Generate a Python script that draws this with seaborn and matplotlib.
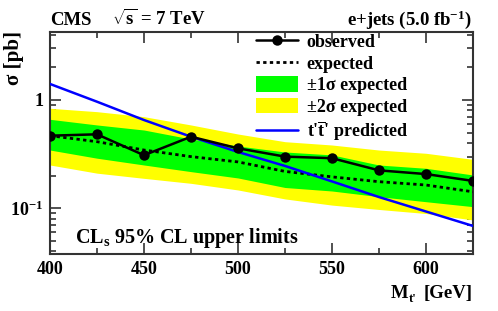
import numpy as np
import pandas as pd
import matplotlib
matplotlib.use("Agg")
import matplotlib.pyplot as plt
import seaborn as sns
from matplotlib.lines import Line2D
from matplotlib.patches import Patch
from matplotlib.ticker import FixedLocator, NullFormatter

# ---- data ----
mass = [400, 425, 450, 475, 500, 525, 550, 575, 600, 625]
observed = [0.468, 0.482, 0.309, 0.458, 0.358, 0.300, 0.290, 0.224, 0.207, 0.179]
expected = [0.468, 0.412, 0.345, 0.300, 0.268, 0.219, 0.195, 0.176, 0.164, 0.142]
band1_lo = [0.345, 0.290, 0.251, 0.218, 0.1905, 0.1556, 0.1444, 0.128, 0.115, 0.1035]
band1_hi = [0.663, 0.588, 0.528, 0.436, 0.376, 0.331, 0.311, 0.251, 0.234, 0.203]
band2_lo = [0.251, 0.211, 0.189, 0.170, 0.1476, 0.122, 0.107, 0.0975, 0.0895, 0.078]
band2_hi = [0.838, 0.780, 0.701, 0.588, 0.485, 0.412, 0.384, 0.345, 0.322, 0.283]
predicted = [1.406, 0.964, 0.653, 0.458, 0.331, 0.246, 0.177, 0.127, 0.0934, 0.0687]

df = pd.DataFrame({"mass": mass, "observed": observed, "expected": expected,
                   "predicted": predicted})

sns.set_theme(style="white")
plt.rcParams["font.family"] = ["Liberation Serif", "DejaVu Serif"]
plt.rcParams["font.weight"] = "bold"
plt.rcParams["text.color"] = "black"
plt.rcParams["xtick.color"] = "black"
plt.rcParams["ytick.color"] = "black"
plt.rcParams["mathtext.fontset"] = "custom"
plt.rcParams["mathtext.rm"] = "Liberation Serif:bold"
plt.rcParams["mathtext.it"] = "Liberation Serif:bold"
plt.rcParams["mathtext.bf"] = "Liberation Serif:bold"

fig = plt.figure(figsize=(4.98, 3.11), dpi=100)
ax = fig.add_axes([50/498, 1-254.3/311, (473-50)/498, (254.3-31.7)/311])

ax.fill_between(mass, band2_lo, band2_hi, color="#FFFF00", lw=0, zorder=1)
ax.fill_between(mass, band1_lo, band1_hi, color="#00FF00", lw=0, zorder=2)
sns.lineplot(data=df, x="mass", y="expected", ax=ax, color="black", lw=2,
             linestyle=(0, (1.2, 1.2)), zorder=3)
sns.lineplot(data=df, x="mass", y="predicted", ax=ax, color="#0000FF", lw=1.8,
             zorder=4)
sns.lineplot(data=df, x="mass", y="observed", ax=ax, color="black", lw=1.8,
             marker="o", markersize=7.5, markeredgewidth=0, zorder=5)

ax.set_yscale("log")
ax.set_xlim(400, 625)
ax.set_ylim(0.0376, 4.27)
ax.set_xlabel("")
ax.set_ylabel("")

# ticks
ax.xaxis.set_major_locator(FixedLocator([400, 450, 500, 550, 600]))
ax.xaxis.set_minor_locator(FixedLocator([425, 475, 525, 575, 625]))
ax.yaxis.set_major_locator(FixedLocator([0.1, 1]))
minors = [0.04, 0.05, 0.06, 0.07, 0.08, 0.09] + [0.2, 0.3, 0.4, 0.5, 0.6, 0.7, 0.8, 0.9] + [2, 3, 4]
ax.yaxis.set_minor_locator(FixedLocator(minors))
ax.yaxis.set_minor_formatter(NullFormatter())
ax.set_yticklabels(["$10^{-1}$", "1"])
ax.set_xticklabels(["400", "450", "500", "550", "600"])
ax.tick_params(which="both", direction="in", top=True, right=True,
               bottom=True, left=True, color="#333333", width=1.2,
               labelcolor="black")
ax.tick_params(which="major", length=8, labelsize=13, pad=5)
ax.tick_params(which="minor", length=4.5)
for lab in ax.get_xticklabels() + ax.get_yticklabels():
    lab.set_fontweight("bold")
for s in ax.spines.values():
    s.set_color("#333333")
    s.set_linewidth(1.5)

# texts
fs = 13.5
fig.text(50/498, 1-25/311, "CMS", fontsize=fs, fontweight="bold", ha="left", va="baseline")
fig.text(112/498, 1-25/311, r"$\sqrt{s}$ = 7 TeV", fontsize=fs, fontweight="bold",
         ha="left", va="baseline")
fig.text(472/498, 1-25/311, r"e+jets (5.0 fb$^{-1}$)", fontsize=fs, fontweight="bold",
         ha="right", va="baseline")
fig.text(14/498, 1-31/311, "σ [pb]", fontsize=15, fontweight="bold", rotation=90,
         ha="center", va="top")
# x-axis title: M, subscript t', [GeV]
fig.text(408/498, 1-298/311, "M", fontsize=fs, fontweight="bold", ha="right", va="baseline")
fig.text(408.5/498, 1-302/311, "t'", fontsize=9, fontweight="bold", ha="left", va="baseline")
fig.text(473/498, 1-298/311, "[GeV]", fontsize=fs, fontweight="bold", ha="right", va="baseline")
fig.text(75/498, 1-243/311, r"CL$_{\mathrm{s}}$ 95% CL upper limits", fontsize=14.5,
         fontweight="bold", ha="left", va="baseline")

handles = [
    Line2D([], [], color="black", lw=1.8, marker="o", markersize=7.5, markeredgewidth=0),
    Line2D([], [], color="black", lw=2, linestyle=(0, (1.2, 1.2))),
    Patch(facecolor="#00FF00", edgecolor="none"),
    Patch(facecolor="#FFFF00", edgecolor="none"),
    Line2D([], [], color="#0000FF", lw=1.8),
]
labels = ["observed", "expected", "±1σ expected", "±2σ expected",
          r"t'$\overline{\mathrm{t}}$' predicted"]
leg = ax.legend(handles, labels, loc="upper left",
                bbox_to_anchor=(256/498, 1-33/311), bbox_transform=fig.transFigure,
                frameon=False, prop={"family": ["Liberation Serif", "DejaVu Serif"],
                                     "weight": "bold", "size": 13},
                handlelength=2.3, handleheight=0.95, handletextpad=0.5,
                labelspacing=0.2, borderpad=0, borderaxespad=0)
for t in leg.get_texts():
    t.set_color("black")

fig.savefig("out.png", dpi=100)
